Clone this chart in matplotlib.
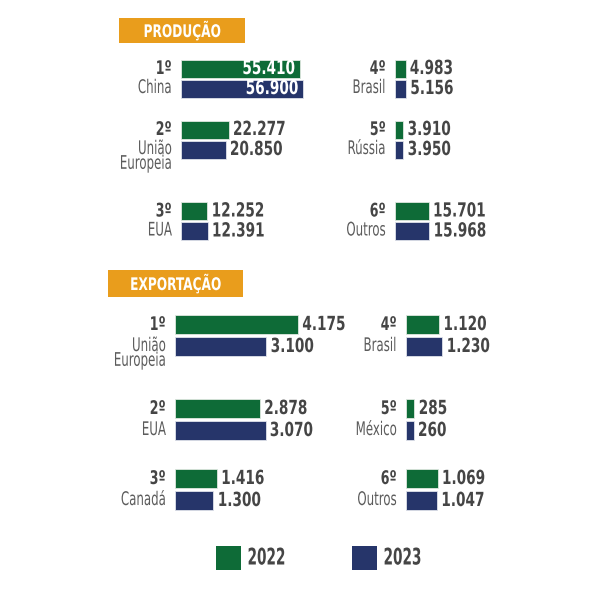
import matplotlib.pyplot as plt
from matplotlib.patches import Rectangle
from matplotlib.patheffects import AbstractPathEffect
from matplotlib.transforms import Affine2D
from matplotlib import font_manager

# data
prod_rank = ["1º", "2º", "3º", "4º", "5º", "6º"]
prod_names = ["China", "União\nEuropeia", "EUA", "Brasil", "Rússia", "Outros"]
prod_2022 = [55410, 22277, 12252, 4983, 3910, 15701]
prod_2023 = [56900, 20850, 12391, 5156, 3950, 15968]

exp_rank = ["1º", "2º", "3º", "4º", "5º", "6º"]
exp_names = ["União\nEuropeia", "EUA", "Canadá", "Brasil", "México", "Outros"]
exp_2022 = [4175, 2878, 1416, 1120, 285, 1069]
exp_2023 = [3100, 3070, 1300, 1230, 260, 1047]

years = ["2022", "2023"]

# look for a narrow font, else Liberation Sans
cond = [f for f in font_manager.fontManager.ttflist
        if f.stretch in ("condensed", "semi-condensed", "extra-condensed")
        or "Narrow" in f.name or "Condensed" in f.name]
if cond:
    plt.rcParams["font.family"] = [cond[0].name, "DejaVu Sans"]
    plt.rcParams["font.stretch"] = "condensed"
    SQ = 1.0
else:
    plt.rcParams["font.family"] = ["Liberation Sans", "DejaVu Sans"]
    SQ = 0.9


class Squeeze(AbstractPathEffect):
    # squeeze text horizontally around its left/right/center edge
    def __init__(self, sx, anchor="left"):
        super().__init__()
        self.sx = sx
        self.anchor = anchor

    def draw_path(self, renderer, gc, tpath, affine, rgbFace=None):
        bb = tpath.get_extents(affine)
        x0 = {"left": bb.x0, "right": bb.x1, "center": (bb.x0 + bb.x1) / 2}[self.anchor]
        t = affine + Affine2D().translate(-x0, 0).scale(self.sx, 1).translate(x0, 0)
        renderer.draw_path(gc, tpath, t, rgbFace)


GREEN = "#0e6b37"
NAVY = "#26356a"
ORANGE = "#e99d1c"
GREY = "#5c5c5c"
DARK = "#454545"

fig = plt.figure(figsize=(6, 6), dpi=100)
W = 600


def fmt(v):
    return f"{v:,}".replace(",", ".")


def put(ax, s, xy, dx, dy, ha, size, sx, color, weight="normal", va="center", ls=1.2):
    ax.annotate(s, xy, xytext=(dx, dy), textcoords="offset pixels", ha=ha, va=va,
                color=color, fontsize=size, fontweight=weight, annotation_clip=False,
                linespacing=ls, path_effects=[Squeeze(sx * SQ, ha)])


def column(x0, scale, rows, ranks, labels, v1, v2, pitch, h, inside_first=False):
    # axes spans the full height, y in pixels, x in data units
    width = 600 - x0
    ax = fig.add_axes([x0 / W, 0, width / W, 1])
    ax.set_ylim(600, 0)
    ax.set_xlim(0, width / scale)
    ax.axis("off")
    for i, r in enumerate(rows):
        ax.barh(r, v1[i], height=h, color=GREEN, edgecolor="#dfe8e0", linewidth=0.6)
        ax.barh(r + pitch, v2[i], height=h, color=NAVY, edgecolor="#dfe2ea", linewidth=0.6)
        for val, y in ((v1[i], r), (v2[i], r + pitch)):
            if inside_first and i == 0:
                put(ax, fmt(val), (val, y), -4, 0, "right", 14, 0.78, "white", "bold")
            else:
                put(ax, fmt(val), (val, y), 4, 0, "left", 14, 0.78, DARK, "bold")
        put(ax, ranks[i], (0, r), -9, 0, "right", 13.5, 0.75, DARK, "bold")
        put(ax, labels[i], (0, r + pitch), -9, 10.5, "right", 13.5, 0.7, GREY,
            va="top", ls=0.72)
    return ax


prow = [68.5, 129.5, 211]
erow = [324.5, 408.5, 478.5]
column(181, 2.14 / 1000, prow, prod_rank[:3], prod_names[:3], prod_2022[:3], prod_2023[:3], 20, 18,
       inside_first=True)
column(395, 2.14 / 1000, prow, prod_rank[3:], prod_names[3:], prod_2022[3:], prod_2023[3:], 20, 18)
column(175, 0.0295, erow, exp_rank[:3], exp_names[:3], exp_2022[:3], exp_2023[:3], 22, 19)
column(406, 0.0295, erow, exp_rank[3:], exp_names[3:], exp_2022[3:], exp_2023[3:], 22, 19)


def header(x0, x1, y0, y1, txt):
    fig.add_artist(Rectangle((x0 / W, 1 - y1 / W), (x1 - x0) / W, (y1 - y0) / W,
                             transform=fig.transFigure, color=ORANGE, lw=0))
    fig.text((x0 + x1) / 2 / W, 1 - (y0 + y1) / 2 / W, txt, ha="center", va="center",
             color="white", fontsize=12.5, fontweight="bold",
             path_effects=[Squeeze(0.78 * SQ, "center")])


header(119, 245, 18, 43, "PRODUÇÃO")
header(108, 243, 270, 297, "EXPORTAÇÃO")

# legend
for x, c, t in ((216, GREEN, years[0]), (352, NAVY, years[1])):
    fig.add_artist(Rectangle((x / W, 1 - 570 / W), 25 / W, 24 / W,
                             transform=fig.transFigure, color=c, lw=0))
    fig.text((x + 31) / W, 1 - 558 / W, t, ha="left", va="center", color=DARK,
             fontsize=16.5, fontweight="bold", path_effects=[Squeeze(0.66 * SQ, "left")])

fig.savefig("out.png", dpi=100, facecolor="white")
